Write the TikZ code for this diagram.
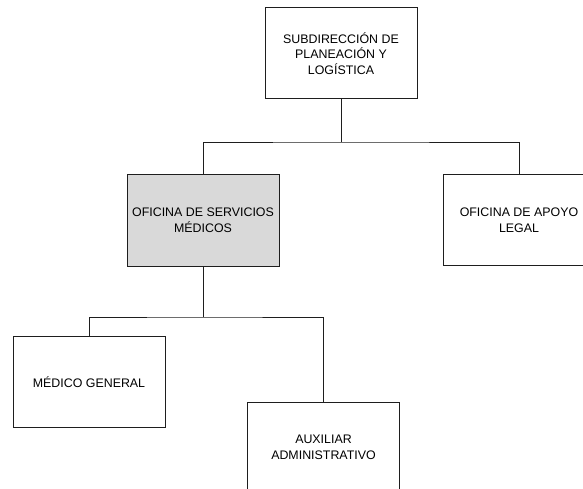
\documentclass[tikz,border=0pt]{standalone}
\usepackage{fontspec}
\setmainfont{Liberation Sans}
\definecolor{boxgray}{RGB}{217,217,217}
\definecolor{linecol}{RGB}{30,30,30}
\tikzset{
  orgbox/.style={draw=linecol, line width=1pt, fill=white, rectangle, inner sep=0pt,
    minimum width=152pt, minimum height=91pt, align=center,
    font=\fontsize{12.4}{15.6}\selectfont},
  conn/.style={draw=linecol, line width=0.8pt}
}
\begin{document}
\begin{tikzpicture}[x=1pt,y=-1pt]
\useasboundingbox (0,0) rectangle (583,489);
\clip (0,0) rectangle (583,489);
\node[orgbox] (top) at (341,53.5) {SUBDIRECCIÓN DE\\PLANEACIÓN Y\\LOGÍSTICA};
\node[orgbox, fill=boxgray] (ofm) at (203,220.5) {OFICINA DE SERVICIOS\\MÉDICOS};
\node[orgbox] (legal) at (519,220) {OFICINA DE APOYO\\LEGAL};
\node[orgbox] (medico) at (89,382) {MÉDICO GENERAL};
\node[orgbox] (aux) at (323.5,447.5) {AUXILIAR\\ADMINISTRATIVO};
\coordinate (j1) at (341,142);
\coordinate (j2) at (203,317);
\draw[conn] (top.south) -- (j1);
\draw[conn] (ofm.north) |- (j1) -| (legal.north);
\draw[conn] (ofm.south) -- (j2);
\draw[conn] (medico.north) |- (j2) -| (aux.north);
\end{tikzpicture}
\end{document}
